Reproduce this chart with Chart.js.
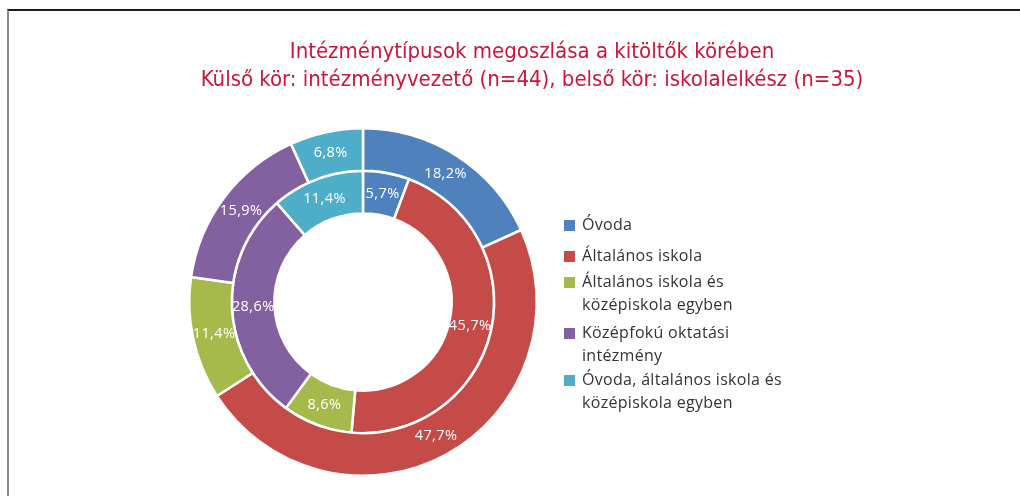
<!DOCTYPE html>
<html>
<head>
<meta charset="utf-8">
<script src="https://cdn.jsdelivr.net/npm/chart.js@4"></script>
<style>
  html, body { margin: 0; padding: 0; background: #fff; }
  #wrap { position: absolute; left: 0; top: 0; width: 1020px; height: 496px; }
  #frame { position: absolute; left: 7px; top: 9px; right: 0; bottom: -4px;
           border-top: 2px solid #1c1c1c; border-left: 2px solid #8a8a8a; }
  canvas { position: absolute; left: 0; top: 0; }
</style>
</head>
<body>
<div id="wrap">
  <div id="frame"></div>
  <canvas id="chart" width="1020" height="496"></canvas>
</div>
<script>
// Data
const titleLines = [
    "Intézménytípusok megoszlása a kitöltők körében",
    "Külső kör: intézményvezető (n=44), belső kör: iskolalelkész (n=35)"
];
const categories = [
    "Óvoda",
    "Általános iskola",
    "Általános iskola és középiskola egyben",
    "Középfokú oktatási intézmény",
    "Óvoda, általános iskola és középiskola egyben"
];
// legend text as it wraps in the picture
const legendLines = [
    ["Óvoda"],
    ["Általános iskola"],
    ["Általános iskola és", "középiskola egyben"],
    ["Középfokú oktatási", "intézmény"],
    ["Óvoda, általános iskola és", "középiskola egyben"]
];
const outerValues = [18.2, 47.7, 11.4, 15.9, 6.8];   // intézményvezető (n=44)
const innerValues = [5.7, 45.7, 8.6, 28.6, 11.4];    // iskolalelkész (n=35)
const colors = ["#4f81bd", "#c44b47", "#a6ba4c", "#8361a0", "#4eadc8"];

// white % labels on each slice
const sliceLabels = {
    id: "sliceLabels",
    afterDatasetsDraw(chart) {
        const ctx = chart.ctx;
        ctx.save();
        ctx.fillStyle = "#ffffff";
        ctx.font = "14.5px 'Open Sans', sans-serif";
        ctx.letterSpacing = "0.4px";
        ctx.textAlign = "center";
        ctx.textBaseline = "middle";
        chart.data.datasets.forEach((ds, i) => {
            chart.getDatasetMeta(i).data.forEach((arc, j) => {
                const p = arc.tooltipPosition();
                ctx.fillText(ds.data[j].toFixed(1).replace(".", ",") + "%", p.x, p.y);
            });
        });
        ctx.restore();
    }
};

// title and wrapped legend on the right
const titleAndLegend = {
    id: "titleAndLegend",
    afterDraw(chart) {
        const ctx = chart.ctx;
        ctx.save();
        ctx.fillStyle = "#c8173a";
        ctx.font = "22px 'DejaVu Sans Condensed', sans-serif";
        ctx.textAlign = "center";
        ctx.textBaseline = "middle";
        ctx.fillText(titleLines[0], 532, 52);
        ctx.fillText(titleLines[1], 532, 80);

        ctx.textAlign = "left";
        ctx.font = "16px 'Open Sans', sans-serif";
        ctx.letterSpacing = "0.3px";
        const tops = [225, 256, 282, 333, 380];
        legendLines.forEach((lines, i) => {
            ctx.fillStyle = colors[i];
            ctx.fillRect(564, tops[i] - 5, 11, 11);
            ctx.fillStyle = "#333333";
            lines.forEach((t, k) => ctx.fillText(t, 582, tops[i] + k * 23));
        });
        ctx.restore();
    }
};

new Chart(document.getElementById("chart"), {
    type: "doughnut",
    data: {
        labels: categories,
        datasets: [
            { label: "Külső kör", data: outerValues, backgroundColor: colors, borderColor: "#ffffff", borderWidth: 2.5 },
            { label: "Belső kör", data: innerValues, backgroundColor: colors, borderColor: "#ffffff", borderWidth: 2.5 }
        ]
    },
    options: {
        responsive: false,
        animation: false,
        cutout: "51%",
        layout: { padding: { left: 188, right: 482, top: 127, bottom: 19 } },
        plugins: { legend: { display: false }, title: { display: false }, tooltip: { enabled: false } }
    },
    plugins: [sliceLabels, titleAndLegend]
});
</script>
</body>
</html>
